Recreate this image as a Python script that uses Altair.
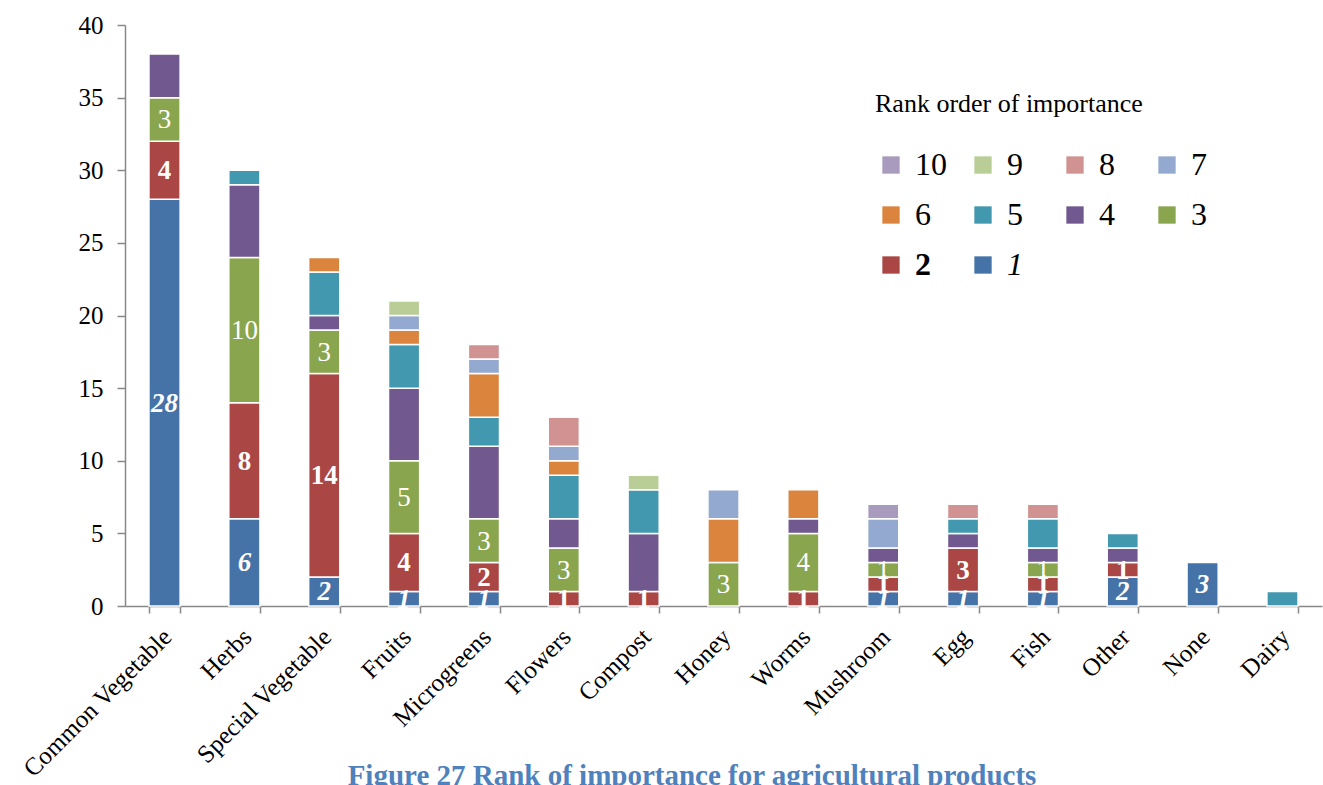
import altair as alt
import pandas as pd

categories = ["Common Vegetable", "Herbs", "Special Vegetable", "Fruits", "Microgreens",
              "Flowers", "Compost", "Honey", "Worms", "Mushroom", "Egg", "Fish",
              "Other", "None", "Dairy"]

rank1 = [28, 6, 2, 1, 1, 0, 0, 0, 0, 1, 1, 1, 2, 3, 0]
rank2 = [4, 8, 14, 4, 2, 1, 1, 0, 1, 1, 3, 1, 1, 0, 0]
rank3 = [3, 10, 3, 5, 3, 3, 0, 3, 4, 1, 0, 1, 0, 0, 0]
rank4 = [3, 5, 1, 5, 5, 2, 4, 0, 1, 1, 1, 1, 1, 0, 0]
rank5 = [0, 1, 3, 3, 2, 3, 3, 0, 0, 0, 1, 2, 1, 0, 1]
rank6 = [0, 0, 1, 1, 3, 1, 0, 3, 2, 0, 0, 0, 0, 0, 0]
rank7 = [0, 0, 0, 1, 1, 1, 0, 2, 0, 2, 0, 0, 0, 0, 0]
rank8 = [0, 0, 0, 0, 1, 2, 0, 0, 0, 0, 1, 1, 0, 0, 0]
rank9 = [0, 0, 0, 1, 0, 0, 1, 0, 0, 0, 0, 0, 0, 0, 0]
rank10 = [0, 0, 0, 0, 0, 0, 0, 0, 0, 1, 0, 0, 0, 0, 0]

rank_names = ["10", "9", "8", "7", "6", "5", "4", "3", "2", "1"]
rank_colors = ["#A99BBD", "#B9CD96", "#D19392", "#93A9CF", "#DB843D",
               "#4198AF", "#71588F", "#89A54E", "#AA4643", "#4572A7"]

series = [rank1, rank2, rank3, rank4, rank5, rank6, rank7, rank8, rank9, rank10]
rows = []
for r, vals in enumerate(series, start=1):
    for c, v in zip(categories, vals):
        if v > 0:
            rows.append({"category": c, "rank": str(r), "rank_num": r, "value": v})
df = pd.DataFrame(rows)

FONT = "Liberation Serif"

base = alt.Chart(df).transform_stack(
    stack="value", groupby=["category"],
    sort=[alt.SortField("rank_num", order="ascending")],
    as_=["y0", "y1"]
).transform_calculate(mid="(datum.y0 + datum.y1) / 2")

x_enc = alt.X("category:N", sort=categories, title=None,
              scale=alt.Scale(paddingInner=0.61, paddingOuter=0.3),
              axis=alt.Axis(labelAngle=-45, labelFont=FONT, labelFontSize=25,
                            labelColor="#000000", domainColor="#888888",
                            tickColor="#888888", tickBand="extent", tickSize=7,
                            labelPadding=11, labelOffset=-6, domainWidth=1.5,
                            tickWidth=1.5, labelLimit=400))

bars = base.mark_bar(stroke="white", strokeWidth=1.5).encode(
    x=x_enc,
    y=alt.Y("y0:Q", title=None,
            scale=alt.Scale(domain=[0, 40]),
            axis=alt.Axis(values=list(range(0, 41, 5)), labelFont=FONT,
                          labelFontSize=25, labelColor="#000000",
                          domainColor="#888888", tickColor="#888888",
                          tickSize=8, labelPadding=14, grid=False,
                          domainWidth=1.5, tickWidth=1.5)),
    y2="y1:Q",
    color=alt.Color("rank:N", scale=alt.Scale(domain=rank_names, range=rank_colors),
                    legend=alt.Legend(
                        title="Rank order of importance", orient="none",
                        direction="horizontal",
                        legendX=750, legendY=66, columns=4, gridAlign="all",
                        symbolType="square", symbolSize=300, symbolStrokeWidth=0,
                        labelFont=FONT, labelFontSize=32, labelColor="#000000",
                        labelFontWeight=alt.ExprRef(expr="datum.label == '2' ? 'bold' : 'normal'"),
                        labelFontStyle=alt.ExprRef(expr="datum.label == '1' ? 'italic' : 'normal'"),
                        titleFont=FONT, titleFontSize=26, titleFontWeight="normal",
                        titleColor="#000000", titlePadding=32, titleLimit=500,
                        columnPadding=20, rowPadding=18, labelOffset=8)),
    order=alt.Order("rank_num:Q", sort="ascending"),
)

def labels(rank, weight, style):
    return base.mark_text(font=FONT, fontSize=27, color="white", fontWeight=weight,
                          fontStyle=style, baseline="middle", align="center", dy=1).encode(
        x=alt.X("category:N", sort=categories),
        y=alt.Y("mid:Q"),
        text=alt.Text("value:Q"),
    ).transform_filter(alt.datum.rank_num == rank)

caption_df = pd.DataFrame({"t": ["Figure 27 Rank of importance for agricultural products"]})
caption = alt.Chart(caption_df).mark_text(
    font=FONT, fontSize=29, fontWeight="bold", color="#4F81BD", align="center",
    baseline="alphabetic").encode(
    text="t:N", x=alt.value(567), y=alt.value(760))

chart = alt.layer(
    bars, labels(1, "bold", "italic"), labels(2, "bold", "normal"),
    labels(3, "normal", "normal"), caption
).properties(
    width=1197, height=581,
    autosize=alt.AutoSizeParams(type="none"),
    padding={"left": 125, "top": 25, "right": 1, "bottom": 179},
).configure_view(stroke=None)

chart.save("out.html", embed_options={"renderer": "svg", "actions": False})
